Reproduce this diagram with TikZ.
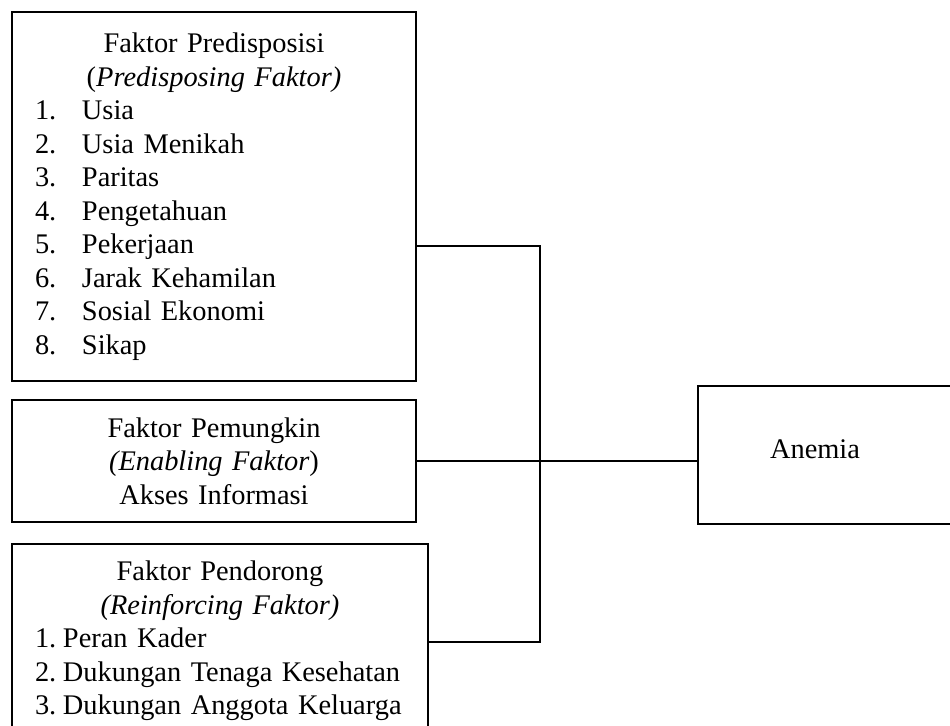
\documentclass[tikz,border=0pt]{standalone}
\usepackage{fontspec}
\setmainfont{Liberation Serif}
\usepackage{tikz}
\usetikzlibrary{positioning}

\newcommand{\itemno}[1]{\makebox[23.5pt][l]{#1}}
\newcommand{\itemnoshort}[1]{\makebox[14pt][l]{#1}}

\begin{document}
\begin{tikzpicture}[x=1pt,y=1pt,line width=1pt,node distance=8.5pt,
    font=\fontsize{14.2pt}{16.75pt}\selectfont,
    box/.style={draw,rectangle,inner xsep=11.5pt,inner ysep=8.6pt}]
    \useasboundingbox (0,0) rectangle (475,-362.5);

    \node[box,text width=179pt,minimum height=184.5pt] (pre) at (107,-98.25)
        {\centering Faktor Predisposisi\\(\textit{Predisposing Faktor)}\par
         \raggedright\itemno{1.}Usia\\\itemno{2.}Usia Menikah\\\itemno{3.}Paritas\\
         \itemno{4.}Pengetahuan\\\itemno{5.}Pekerjaan\\\itemno{6.}Jarak Kehamilan\\
         \itemno{7.}Sosial Ekonomi\\\itemno{8.}Sikap};
    \node[box,text width=179pt,minimum height=61pt,align=center] (enab) [below=of pre]
        {Faktor Pemungkin\\\textit{(Enabling Faktor})\\Akses Informasi};
    \node[box,text width=185pt] (reinf) [below=10pt of enab.south west,anchor=north west]
        {\centering Faktor Pendorong\\\textit{(Reinforcing Faktor)}\par
         \raggedright\mbox{\itemnoshort{1.}Peran Kader}\\
         \mbox{\itemnoshort{2.}Dukungan Tenaga Kesehatan}\\
         \mbox{\itemnoshort{3.}Dukungan Anggota Keluarga}};
    \node[box,minimum width=132pt,minimum height=69pt,anchor=west,
          label={[name=anemiatxt,xshift=-7.5pt,yshift=3pt]center:Anemia}] (anemia)
        [right=140pt of enab.east,yshift=3pt] {};

    \coordinate[right=61.5pt of pre.east,yshift=-24.75pt] (jtop);
    \coordinate[below=197.8pt of jtop] (jbot);

    \draw (pre.east |- jtop) -- (jtop) -- (jbot) -- (jbot -| reinf.east);
    \draw (enab.east) -- (enab.east -| anemia.west);
\end{tikzpicture}
\end{document}
